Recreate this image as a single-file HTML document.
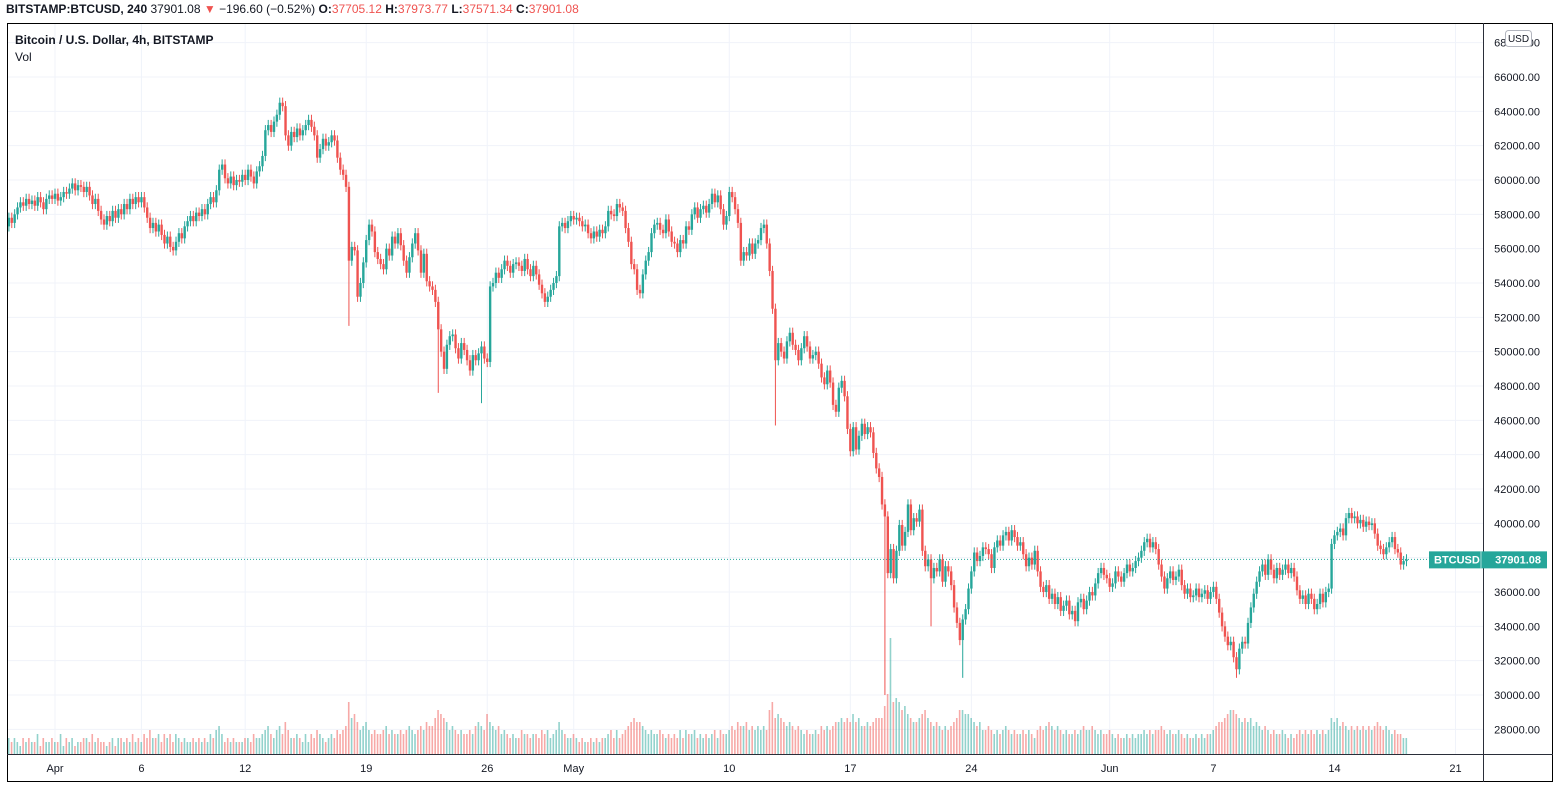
<!DOCTYPE html>
<html><head><meta charset="utf-8"><style>
body{margin:0;background:#fff;width:1560px;height:792px;overflow:hidden;font-family:"Liberation Sans",sans-serif}
svg{position:absolute;left:0;top:0}
</style></head><body>
<svg id="c" width="1560" height="792"></svg>
<script>
const closes=[
55.2,56.5,57.3,57.8,57.5,58.0, 58.4,58.7,58.5,58.9,58.6,58.8, 58.5,59.0,58.7,58.3,58.9,59.1,
58.9,59.2,58.8,59.0,59.3,59.2, 59.5,59.8,59.4,59.7,59.6,59.3, 59.6,59.1,58.6,58.9,58.2,57.7,
57.4,57.9,57.6,58.2,57.8,58.3, 58.0,58.6,58.3,58.9,58.6,59.0, 58.7,59.0,58.4,57.8,57.2,57.5,
57.0,57.4,56.8,56.3,56.7,56.1, 55.9,56.4,56.9,56.6,57.3,57.6, 57.9,57.6,58.1,57.9,58.3,58.0,
58.6,59.0,58.7,59.4,60.6,60.9, 60.1,59.8,60.2,59.7,60.0,59.9, 60.3,60.0,60.6,60.2,59.8,60.5,
60.8,61.4,62.9,63.2,62.8,63.4, 63.8,64.5,64.3,62.6,62.0,62.8, 62.5,63.0,62.6,62.9,63.2,63.5,
63.1,62.6,61.3,61.8,62.4,62.0, 62.2,62.6,62.3,61.3,60.6,60.3, 59.6,55.3,56.1,55.9,53.2,54.0,
55.2,56.5,57.4,57.0,55.8,55.4, 55.1,54.8,56.0,55.6,56.7,56.3, 56.9,56.2,55.3,54.6,55.5,56.3,
56.9,55.9,54.6,55.7,54.1,53.8, 53.6,52.9,51.3,50.0,49.0,50.4, 50.9,51.0,50.2,49.6,50.5,50.1,
49.5,48.9,49.8,49.5,49.9,50.3, 49.6,49.4,53.8,54.0,54.6,54.3, 54.8,55.3,55.0,54.6,55.1,55.2,
55.0,54.7,55.4,54.8,54.4,55.0, 54.5,53.9,53.4,52.9,53.2,53.6, 54.0,54.4,57.3,57.5,57.2,57.6,
57.9,57.7,57.8,57.6,57.3,57.4, 56.9,56.6,57.0,56.7,57.1,56.9, 57.3,58.2,58.0,57.9,58.6,58.4,
58.2,57.2,56.4,55.1,54.8,53.6, 53.4,54.5,55.3,55.8,56.9,57.4, 57.5,57.1,56.9,57.7,57.0,56.4,
56.3,55.8,56.5,56.3,57.3,57.1, 58.0,58.4,57.8,58.3,58.5,58.1, 58.6,59.2,58.7,59.1,58.3,57.4,
57.9,59.3,59.0,58.3,57.5,55.3, 55.8,55.6,56.3,55.7,56.3,56.5, 57.2,57.4,56.3,54.7,52.5,49.5,
50.5,50.0,49.6,50.6,51.1,50.4, 50.1,49.5,50.2,50.9,50.3,49.6, 49.8,50.0,49.3,48.5,48.1,48.9,
48.2,46.9,46.5,47.9,48.3,47.4, 45.5,44.2,45.6,44.3,45.1,45.8, 45.2,45.6,45.3,44.1,43.2,42.7,
41.1,40.4,37.1,38.5,36.8,38.4, 39.9,38.7,39.5,41.1,39.6,40.3, 40.1,40.8,38.4,37.5,37.9,36.8,
37.4,37.2,37.9,36.6,37.5,37.2, 36.4,35.1,34.2,33.2,34.4,35.0, 36.2,37.2,38.3,37.8,38.1,38.6,
38.5,38.2,37.4,38.6,39.0,38.7, 39.3,39.5,39.0,39.6,39.2,38.7, 38.9,38.2,37.5,38.0,37.6,38.4,
37.2,36.3,36.0,36.4,35.6,35.9, 35.3,35.7,34.9,35.2,35.5,34.7, 34.9,34.3,35.4,35.6,35.0,35.5,
36.0,35.8,36.5,37.1,37.4,37.0, 36.8,36.3,36.5,37.2,36.9,36.6, 37.1,37.6,37.2,37.4,37.8,38.0,
38.4,38.9,39.1,38.6,38.9,38.5, 37.6,36.9,36.2,36.8,37.2,36.7, 36.9,37.3,36.4,35.9,36.2,35.7,
35.8,36.2,35.7,35.9,36.1,35.6, 36.0,36.3,35.6,34.8,34.0,33.4, 32.9,33.1,32.2,31.5,32.7,33.1,
33.0,34.2,35.1,35.9,36.6,37.2, 37.6,37.0,37.9,37.3,36.8,37.4, 37.0,37.3,37.6,37.1,37.4,36.9,
36.1,35.6,35.8,35.3,35.9,35.6, 35.0,35.3,35.9,35.4,36.0,36.2, 38.8,39.3,39.5,39.7,39.3,40.3,
40.6,40.3,40.4,40.0,40.2,39.8, 40.1,39.9,40.0,39.4,38.7,38.5, 38.2,38.6,38.9,39.2,38.5,38.3,
37.6,37.8,37.9];
const spikeIdx=[121,152,167,269,307,323,334,429];
const spikeLow=[51.5,47.6,47.0,45.7,30.0,34.0,31.0,31.0];
const volStr="543434324343352433433524342334435343323424434353435464453545354343343434354675343433344354456754675864454353546543454656"+
"7d9a86786565567565565676567687"+"79ba98676565565787"+"6a8767565454465545546564568654454343343434456464567898876565565454546465564545456465567687786767676bd9a98787676565565767678898"+
"98a897787899"+"9cftdedbca9889ab98787676789bbaa98786676565676565565654676787676565565676676565565454454545565656676565565454454545567889abba98989787676565565454565656565656989787676767676787676565544";
const priceTicks=[28000,30000,32000,34000,36000,38000,40000,42000,44000,46000,48000,50000,52000,54000,56000,58000,60000,62000,64000,66000,68000];
const dateLabels=["Apr","6","12","19","26","May","10","17","24","Jun","7","14","21"];
const dateDays=[0,5,11,18,25,30,39,46,53,61,67,74,81];
const lastPrice=37901.08;

const NS="http://www.w3.org/2000/svg",svg=document.getElementById('c');
const L=7,R=1483,T=23,B=754;
const y=p=>695-(p-30000)*0.017167;
const dx=d=>55+d*17.29;
const cx=i=>dx(-3.25+i/6)+1.44;
function mk(t,a,parent){const e=document.createElementNS(NS,t);for(const k in a)e.setAttribute(k,a[k]);(parent||svg).appendChild(e);return e;}
const grid=mk('g',{});


priceTicks.forEach(p=>{const yy=y(p);if(yy>T&&yy<B)mk('line',{x1:L,x2:R,y1:yy,y2:yy,stroke:'#f0f3fa','stroke-width':1},grid);});
dateDays.forEach(d=>{mk('line',{x1:dx(d),x2:dx(d),y1:T,y2:B,stroke:'#f0f3fa','stroke-width':1},grid);});
const defs=mk('defs',{});const cp=mk('clipPath',{id:'cp'},defs);mk('rect',{x:L,y:T,width:R-L,height:B-T},cp);
const vg=mk('g',{'clip-path':'url(#cp)'});


const cg=mk('g',{'clip-path':'url(#cp)'});


for(let i=0;i<closes.length;i++){
  const c=closes[i]*1000,o=(i?closes[i-1]:55.0)*1000;
  const up=c>=o,col=up?'#26a69a':'#ef5350';
  let hi=Math.max(o,c)+300,lo=Math.min(o,c)-300;
  spikeIdx.forEach((k,j)=>{if(k===i)lo=Math.min(lo,spikeLow[j]*1000);});
  const x=cx(i);
  const v=parseInt(volStr[i]||'4',36)*4;
  const vb=mk('rect',{x:x-1,y:B-v,width:1.6,height:v,fill:up?'rgba(38,166,154,0.5)':'rgba(239,83,80,0.5)'},vg);
  
  
  const w=mk('line',{x1:x,x2:x,y1:y(hi),y2:y(lo),stroke:col,'stroke-width':1},cg);
  
  
  const top=y(Math.max(o,c)),h=Math.max(1,y(Math.min(o,c))-top);
  const b=mk('rect',{x:x-1.2,y:top,width:2.4,height:h,fill:col},cg);
  
  
}
const lp=mk('line',{x1:L,x2:R,y1:y(lastPrice),y2:y(lastPrice),stroke:'#26a69a','stroke-width':1,'stroke-dasharray':'1 2'});


mk('rect',{x:7.5,y:23.5,width:1545,height:758,fill:'none',stroke:'#000','stroke-width':1});
mk('line',{x1:R+.5,x2:R+.5,y1:T,y2:782,stroke:'#2a2e39','stroke-width':1});
mk('line',{x1:L,x2:1553,y1:B+.5,y2:B+.5,stroke:'#2a2e39','stroke-width':1});
priceTicks.forEach(p=>{const yy=y(p);if(yy<T||yy>B)return;
  const t=mk('text',{x:1540,y:yy+4,'font-size':11,fill:'#131722','text-anchor':'end'});t.textContent=p.toFixed(2);
  
  });
dateLabels.forEach((s,i)=>{const t=mk('text',{x:dx(dateDays[i]),y:772,'font-size':11,fill:'#131722','text-anchor':'middle'});t.textContent=s;
  
  });
const ub=mk('g',{});


mk('rect',{x:1505.5,y:30.5,width:26,height:16,rx:3,fill:'#fff',stroke:'#b2b5be'},ub);
const ut=mk('text',{x:1518.5,y:42,'font-size':10,fill:'#131722','text-anchor':'middle'},ub);ut.textContent='USD';
const lb=mk('g',{});


const ly=y(lastPrice);
mk('rect',{x:1429,y:ly-8,width:118,height:17,fill:'#26a69a'},lb);
const lt1=mk('text',{x:1434,y:ly+4,'font-size':11,'font-weight':'bold',fill:'#fff'},lb);lt1.textContent='BTCUSD';
const lt2=mk('text',{x:1541,y:ly+4,'font-size':11,'font-weight':'bold',fill:'#fff','text-anchor':'end'},lb);lt2.textContent='37901.08';
mk('line',{x1:1481,x2:1481,y1:ly-8,y2:ly+9,stroke:'#fff','stroke-width':0.6},lb);
const h=mk('text',{x:6,y:13,'font-size':12,fill:'#131722'});


h.innerHTML='<tspan font-weight="bold">BITSTAMP:BTCUSD, 240</tspan> 37901.08 <tspan fill="#ef5350">▼</tspan> −196.60 (−0.52%) <tspan font-weight="bold">O:</tspan><tspan fill="#ef5350">37705.12</tspan> <tspan font-weight="bold">H:</tspan><tspan fill="#ef5350">37973.77</tspan> <tspan font-weight="bold">L:</tspan><tspan fill="#ef5350">37571.34</tspan> <tspan font-weight="bold">C:</tspan><tspan fill="#ef5350">37901.08</tspan>';
const t1=mk('text',{x:15,y:44,'font-size':12,'font-weight':'bold',fill:'#131722'});t1.textContent='Bitcoin / U.S. Dollar, 4h, BITSTAMP';


const t2=mk('text',{x:15,y:61,'font-size':12,fill:'#131722'});t2.textContent='Vol';


</script>
</body></html>
